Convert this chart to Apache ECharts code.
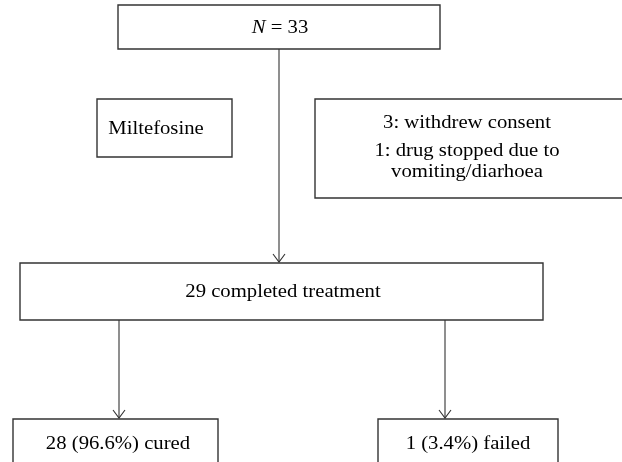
<!DOCTYPE html>
<html>
<head>
<meta charset="utf-8">
<script src="https://cdn.jsdelivr.net/npm/echarts@6/dist/echarts.min.js"></script>
<style>html,body{margin:0;padding:0;background:#fff;}#c{width:622px;height:462px;}</style>
</head>
<body>
<div id="c"></div>
<script>
// Flowchart content
const boxIds = ['start', 'drug', 'excluded', 'completed', 'cured', 'failed'];
const boxTexts = [
  ['{i|N} = 33'],
  ['Miltefosine'],
  ['3: withdrew consent', '1: drug stopped due to', 'vomiting/diarhoea'],
  ['29 completed treatment'],
  ['28 (96.6%) cured'],
  ['1 (3.4%) failed']
];
// Layout (page units on a hidden 622 x 462 value grid)
const boxLeft   = [118, 97, 315, 20, 13, 378];
const boxRight  = [440, 232, 630, 543, 218, 558];
const boxTop    = [5, 99, 99, 263, 419, 419];
const boxBottom = [49, 157, 198, 320, 480, 480];
const textX     = [280, 156, 467, 283, 118, 468];
const textY     = [[28], [129], [123, 151, 172], [292], [444], [444]];
// Arrows: x, from y, to y
const arrowX    = [279, 119, 445];
const arrowFrom = [49, 320, 320];
const arrowTo   = [262, 418, 418];

const FONT = '18px "Liberation Serif", "Times New Roman", serif';
const SX = 1.15;
const INK = '#333';

const boxData = boxIds.map((id, i) => [boxLeft[i], boxTop[i], boxRight[i], boxBottom[i], i]);
const arrowData = arrowX.map((x, i) => [x, arrowFrom[i], arrowTo[i]]);

const chart = echarts.init(document.getElementById('c'), null, {renderer: 'canvas'});
chart.setOption({
  backgroundColor: '#fff',
  animation: false,
  grid: {left: 0, right: 0, top: 0, bottom: 0},
  xAxis: {type: 'value', min: 0, max: 622, show: false},
  yAxis: {type: 'value', min: 0, max: 462, inverse: true, show: false},
  series: [
    {
      type: 'custom',
      clip: true,
      data: boxData,
      renderItem: function (params, api) {
        const i = api.value(4);
        const p0 = api.coord([api.value(0), api.value(1)]);
        const p1 = api.coord([api.value(2), api.value(3)]);
        const children = [{
          type: 'rect',
          shape: {x: p0[0], y: p0[1], width: p1[0] - p0[0], height: p1[1] - p0[1]},
          style: {fill: '#fff', stroke: INK, lineWidth: 1.4}
        }];
        boxTexts[i].forEach(function (t, k) {
          const tp = api.coord([textX[i], textY[i][k]]);
          children.push({
            type: 'text',
            x: tp[0], y: tp[1], scaleX: SX,
            style: {
              text: t, font: FONT, fill: '#000',
              align: 'center', verticalAlign: 'middle',
              rich: {i: {font: 'italic ' + FONT, fill: '#000'}}
            }
          });
        });
        return {type: 'group', children: children};
      }
    },
    {
      type: 'custom',
      data: arrowData,
      renderItem: function (params, api) {
        const a = api.coord([api.value(0), api.value(1)]);
        const b = api.coord([api.value(0), api.value(2)]);
        return {
          type: 'group',
          children: [
            {type: 'line', shape: {x1: a[0], y1: a[1], x2: b[0], y2: b[1]}, style: {stroke: INK, lineWidth: 1.1}},
            {type: 'polyline', shape: {points: [[b[0] - 6, b[1] - 8], [b[0], b[1]], [b[0] + 6, b[1] - 8]]}, style: {stroke: INK, lineWidth: 1.1, fill: null}}
          ]
        };
      }
    }
  ]
});
</script>
</body>
</html>
